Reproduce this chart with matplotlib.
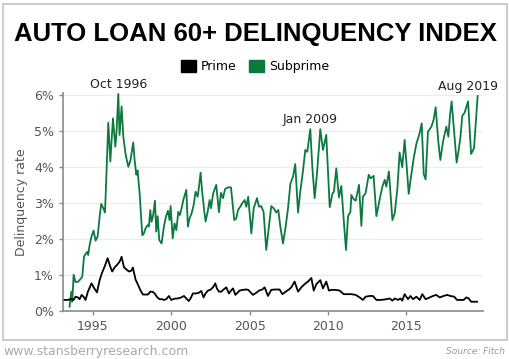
import matplotlib.pyplot as plt
from matplotlib.patches import Rectangle, Patch

# subprime 60+ delinquency (%)
sub_year = [1993.51, 1993.62, 1993.68, 1993.77, 1993.89, 1994.04, 1994.19, 1994.32, 1994.43, 1994.53,
            1994.64, 1994.70, 1994.79, 1994.91, 1995.04, 1995.17, 1995.30, 1995.43, 1995.53, 1995.66,
            1995.77, 1995.85, 1995.98, 1996.11, 1996.28, 1996.43, 1996.51, 1996.62, 1996.70, 1996.83,
            1996.94, 1997.09, 1997.26, 1997.40, 1997.57, 1997.66, 1997.77, 1997.85, 1997.98, 1998.15,
            1998.23, 1998.36, 1998.49, 1998.57, 1998.66, 1998.74, 1998.83, 1998.96, 1999.04, 1999.13,
            1999.23, 1999.38, 1999.53, 1999.66, 1999.79, 1999.89, 1999.96, 2000.09, 2000.21, 2000.32,
            2000.45, 2000.55, 2000.66, 2000.77, 2000.96, 2001.06, 2001.17, 2001.30, 2001.43, 2001.55,
            2001.68, 2001.77, 2001.87, 2001.98, 2002.11, 2002.19, 2002.32, 2002.45, 2002.53, 2002.68,
            2002.87, 2003.04, 2003.17, 2003.30, 2003.43, 2003.60, 2003.81, 2004.02, 2004.15, 2004.26,
            2004.40, 2004.53, 2004.68, 2004.79, 2004.91, 2005.11, 2005.26, 2005.47, 2005.60, 2005.74,
            2005.89, 2006.06, 2006.23, 2006.38, 2006.53, 2006.70, 2006.83, 2006.96, 2007.13, 2007.30,
            2007.45, 2007.60, 2007.77, 2007.91, 2008.09, 2008.23, 2008.40, 2008.55, 2008.68, 2008.87,
            2009.00, 2009.15, 2009.30, 2009.51, 2009.68, 2009.89, 2010.11, 2010.28, 2010.38, 2010.53,
            2010.70, 2010.85, 2011.02, 2011.15, 2011.28, 2011.43, 2011.49, 2011.64, 2011.77, 2011.98,
            2012.13, 2012.23, 2012.40, 2012.60, 2012.72, 2012.91, 2013.09, 2013.30, 2013.47, 2013.62,
            2013.72, 2013.89, 2014.11, 2014.26, 2014.43, 2014.57, 2014.74, 2014.89, 2015.00, 2015.15,
            2015.30, 2015.47, 2015.64, 2015.85, 2015.98, 2016.11, 2016.23, 2016.38, 2016.60, 2016.74,
            2016.87, 2017.04, 2017.17, 2017.34, 2017.55, 2017.68, 2017.79, 2017.89, 2018.04, 2018.21,
            2018.34, 2018.45, 2018.57, 2018.72, 2018.94, 2019.13, 2019.32, 2019.55]
sub_rate = [0.11, 0.53, 0.25, 1.00, 0.80, 0.80, 0.87, 0.95, 1.50, 1.58,
            1.64, 1.55, 1.83, 2.06, 2.23, 1.95, 2.06, 2.62, 2.97, 2.85,
            2.73, 3.64, 5.23, 4.15, 5.35, 4.56, 4.98, 6.03, 4.89, 5.68,
            4.84, 4.33, 4.00, 4.19, 4.68, 4.19, 3.78, 3.90, 3.27, 2.10,
            2.13, 2.29, 2.38, 2.34, 2.80, 2.47, 2.62, 3.06, 2.20, 2.63,
            1.97, 1.87, 2.34, 2.62, 2.78, 2.52, 2.91, 2.01, 2.43, 2.24,
            2.75, 2.66, 2.85, 3.08, 3.36, 2.34, 2.57, 2.71, 2.94, 3.31,
            3.17, 3.45, 3.84, 3.27, 2.75, 2.48, 2.75, 3.08, 2.85, 3.27,
            3.50, 2.74, 3.28, 3.13, 3.38, 3.43, 3.43, 2.52, 2.57, 2.80,
            2.89, 2.99, 3.08, 2.89, 3.17, 2.15, 2.85, 3.13, 2.89, 2.91,
            2.75, 1.69, 2.34, 2.91, 2.85, 2.73, 2.80, 2.34, 1.87, 2.34,
            2.85, 3.53, 3.73, 4.08, 2.73, 3.31, 3.87, 4.47, 4.42, 5.05,
            4.00, 3.13, 3.82, 5.05, 4.47, 4.89, 2.88, 3.25, 3.31, 3.96,
            3.15, 3.47, 2.43, 1.69, 2.63, 2.75, 3.22, 3.10, 3.06, 3.50,
            2.36, 3.17, 3.27, 3.78, 3.68, 3.75, 2.63, 3.10, 3.45, 3.64,
            3.45, 3.87, 2.52, 2.71, 3.40, 4.40, 3.99, 4.75, 4.15, 3.25,
            3.73, 4.24, 4.64, 4.94, 5.21, 3.80, 3.65, 4.98, 5.12, 5.31,
            5.66, 4.70, 4.19, 4.70, 5.12, 4.84, 5.45, 5.82, 5.03, 4.12,
            4.47, 4.82, 5.42, 5.51, 5.82, 4.36, 4.52, 5.97]

# prime 60+ delinquency (%)
prime_year = [1993.19, 1993.40, 1993.62, 1993.77, 1993.89, 1994.04, 1994.15, 1994.28, 1994.40, 1994.53,
              1994.68, 1994.91, 1995.06, 1995.26, 1995.43, 1995.57, 1995.74, 1995.94, 1996.11, 1996.23,
              1996.38, 1996.53, 1996.70, 1996.83, 1996.98, 1997.13, 1997.30, 1997.45, 1997.55, 1997.72,
              1997.89, 1998.02, 1998.19, 1998.34, 1998.51, 1998.66, 1998.79, 1998.94, 1999.11, 1999.26,
              1999.40, 1999.53, 1999.68, 1999.85, 2000.00, 2000.11, 2000.28, 2000.43, 2000.64, 2000.81,
              2000.96, 2001.11, 2001.23, 2001.38, 2001.60, 2001.77, 2001.91, 2002.06, 2002.19, 2002.34,
              2002.49, 2002.66, 2002.81, 2002.91, 2003.04, 2003.19, 2003.34, 2003.51, 2003.68, 2003.81,
              2003.94, 2004.09, 2004.23, 2004.36, 2004.57, 2004.79, 2004.91, 2005.21, 2005.43, 2005.60,
              2005.81, 2005.96, 2006.17, 2006.38, 2006.60, 2006.91, 2007.09, 2007.30, 2007.51, 2007.66,
              2007.87, 2008.09, 2008.30, 2008.51, 2008.72, 2008.94, 2009.09, 2009.26, 2009.51, 2009.68,
              2009.89, 2010.06, 2010.23, 2010.49, 2010.74, 2011.00, 2011.28, 2011.49, 2011.77, 2012.02,
              2012.23, 2012.40, 2012.66, 2012.87, 2013.09, 2013.40, 2013.72, 2013.94, 2014.11, 2014.26,
              2014.47, 2014.62, 2014.74, 2014.89, 2015.11, 2015.26, 2015.43, 2015.64, 2015.85, 2016.02,
              2016.23, 2016.49, 2016.70, 2016.91, 2017.13, 2017.38, 2017.60, 2017.81, 2018.06, 2018.23,
              2018.66, 2018.83, 2018.98, 2019.13, 2019.51]
prime_rate = [0.30, 0.30, 0.33, 0.30, 0.39, 0.37, 0.32, 0.44, 0.39, 0.30,
              0.53, 0.76, 0.64, 0.51, 0.85, 1.04, 1.22, 1.46, 1.22, 1.09,
              1.20, 1.27, 1.36, 1.50, 1.21, 1.15, 1.09, 1.11, 1.20, 0.87,
              0.71, 0.58, 0.45, 0.45, 0.45, 0.53, 0.53, 0.48, 0.37, 0.32,
              0.32, 0.30, 0.32, 0.41, 0.30, 0.32, 0.34, 0.34, 0.37, 0.41,
              0.34, 0.27, 0.34, 0.48, 0.48, 0.50, 0.55, 0.37, 0.48, 0.56,
              0.58, 0.65, 0.76, 0.62, 0.53, 0.53, 0.59, 0.65, 0.48, 0.56,
              0.62, 0.44, 0.50, 0.56, 0.58, 0.59, 0.58, 0.44, 0.50, 0.56,
              0.59, 0.65, 0.41, 0.58, 0.59, 0.59, 0.46, 0.53, 0.59, 0.65,
              0.81, 0.53, 0.65, 0.74, 0.81, 0.91, 0.56, 0.74, 0.85, 0.62,
              0.81, 0.56, 0.58, 0.58, 0.56, 0.46, 0.46, 0.46, 0.44, 0.37,
              0.30, 0.39, 0.41, 0.41, 0.30, 0.30, 0.32, 0.34, 0.28, 0.34,
              0.30, 0.34, 0.28, 0.46, 0.32, 0.41, 0.32, 0.39, 0.30, 0.46,
              0.32, 0.37, 0.41, 0.44, 0.37, 0.41, 0.44, 0.41, 0.39, 0.30,
              0.30, 0.37, 0.34, 0.25, 0.25]

callouts = ['Oct 1996', 'Jan 2009', 'Aug 2019']
callout_year = [1996.62, 2008.87, 2019.55]
callout_rate = [6.03, 5.05, 5.97]
callout_dx = [0, 0, -7]

green = '#0b7a3f'
gray = '#555555'

fig = plt.figure(figsize=(5.1, 3.59), dpi=100)
ax = fig.add_axes([0.1235, 0.1345, 0.8235, 0.606])

ax.plot(sub_year, sub_rate, color=green, lw=1.3, clip_on=False, zorder=3)
ax.plot(prime_year, prime_rate, color='black', lw=1.3, zorder=3)

ax.set_xlim(1993.09, 2019.89)
ax.set_ylim(0, 6.05)
ax.set_yticks(range(7))
ax.set_yticklabels([f'{i}%' for i in range(7)])
ax.set_xticks([1995, 2000, 2005, 2010, 2015])
ax.grid(axis='y', color='#ececec', lw=0.8)
ax.set_axisbelow(True)
for s in ['top', 'right']:
    ax.spines[s].set_visible(False)
for s in ['left', 'bottom']:
    ax.spines[s].set_color('#8a8a8a')
    ax.spines[s].set_linewidth(1.2)
ax.tick_params(colors='#8a8a8a', labelcolor=gray, labelsize=9, length=3, width=1)
ax.set_ylabel('Delinquency rate', color=gray, fontsize=9, labelpad=4)

for t, x, y, dx in zip(callouts, callout_year, callout_rate, callout_dx):
    ax.annotate(t, (x, y), xytext=(dx, 2), textcoords='offset points',
                ha='center', va='bottom', fontsize=9, color='#222222')

handles = [Patch(color='black', label='Prime'), Patch(color=green, label='Subprime')]
fig.legend(handles=handles, loc='center', bbox_to_anchor=(0.5, 0.815), ncol=2,
           frameon=False, fontsize=9, handlelength=1.2, handleheight=1.2,
           handletextpad=0.4, columnspacing=1.0)

fig.text(0.5, 1 - 34 / 359, 'AUTO LOAN 60+ DELINQUENCY INDEX', ha='center', va='center',
         fontsize=18.5, fontweight='bold', family='Liberation Sans')

fig.patches.append(Rectangle((3 / 510, 1 - 340 / 359), 504 / 510, 336 / 359,
                             transform=fig.transFigure, fill=False,
                             edgecolor='#cccccc', lw=1.5))
fig.text(3 / 510, 1 - 351 / 359, 'www.stansberryresearch.com', ha='left', va='center',
         fontsize=9, color='#aaaaaa')
fig.text(505 / 510, 1 - 351 / 359, 'Source: Fitch', ha='right', va='center',
         fontsize=6.5, color='#999999', style='italic')

plt.savefig('out.png', dpi=100)
